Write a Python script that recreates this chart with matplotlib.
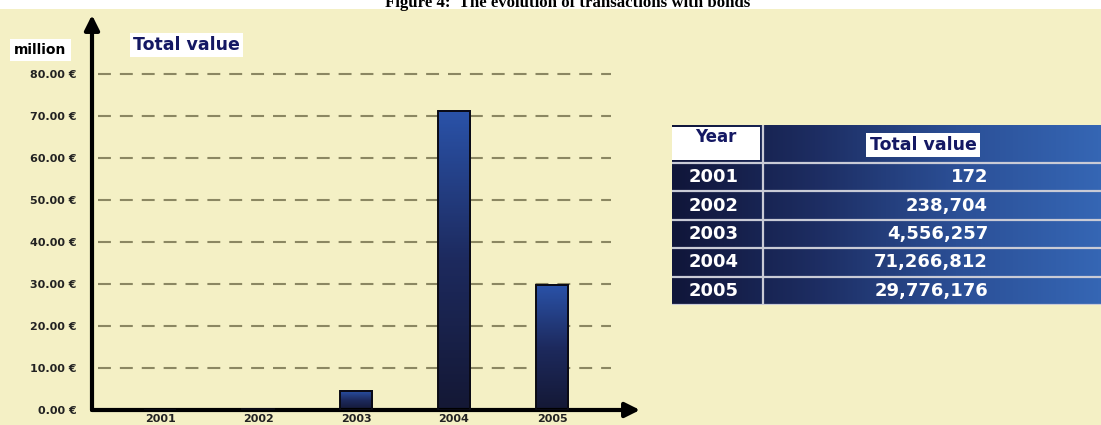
import numpy as np
import matplotlib.pyplot as plt
from matplotlib.colors import LinearSegmentedColormap
from matplotlib.patches import Rectangle

# bonds transactions, total value per year (euro)
years = ["2001", "2002", "2003", "2004", "2005"]
values = [172, 238704, 4556257, 71266812, 29776176]
value_labels = ["172", "238,704", "4,556,257", "71,266,812", "29,776,176"]
y_ticks = [0, 10, 20, 30, 40, 50, 60, 70, 80]

cream = "#f4f0c5"
navy_text = "#141863"
bar_cmap = LinearSegmentedColormap.from_list("bar", ["#141835", "#1d2a5e", "#2a52a8"])
tab_cmap = LinearSegmentedColormap.from_list("tab", ["#10163a", "#1d2d62", "#2b4f96", "#3566b4"])

W, H = 1101, 425
fig = plt.figure(figsize=(W / 100, H / 100), dpi=100, facecolor="white")

# cream panel under the white title strip
bg = fig.add_axes([0, 0, 1, 1 - 9 / H], zorder=-5)
bg.set_facecolor(cream)
bg.set_xticks([])
bg.set_yticks([])
for s in bg.spines.values():
    s.set_visible(False)

fig.text(568 / W, 1 - 7 / H, "Figure 4:  The evolution of transactions with bonds",
         ha="center", va="baseline", fontsize=12.1, fontweight="bold",
         family="Liberation Serif", color="black", zorder=10)

# ---- bar chart ----
ax = fig.add_axes([92 / W, 15 / H, (640 - 92) / W, (410 - 15) / H])
ax.patch.set_alpha(0)
for s in ax.spines.values():
    s.set_visible(False)
ax.set_xlim(-0.694, 4.898)
ax.set_ylim(0, 94)
ax.set_autoscale_on(False)

millions = [v / 1e6 for v in values]
xs = np.arange(len(years))
bw = 0.33
# dark at the base, blue at the top
grad = np.linspace(1, 0, 64).reshape(-1, 1)
for x, h in zip(xs, millions):
    ax.imshow(grad, extent=(x - bw / 2, x + bw / 2, 0, h), aspect="auto",
              cmap=bar_cmap, zorder=3, interpolation="bilinear")
    ax.add_patch(Rectangle((x - bw / 2, 0), bw, h, facecolor="none",
                           edgecolor="#0a0a14", lw=1.4, zorder=4))

for t in y_ticks[1:]:
    ax.hlines(t, -0.63, 4.6, colors="#8b8762", linestyles=(0, (6.2, 4.3)), lw=1.5, zorder=1)

ax.set_yticks(y_ticks)
ax.set_yticklabels([f"{t:.2f} €" for t in y_ticks], fontsize=8, fontweight="bold", color="#222222")
ax.set_xticks(xs)
ax.set_xticklabels(years, fontsize=8, fontweight="bold", color="#222222")
ax.tick_params(axis="y", length=0, pad=11)
ax.tick_params(axis="x", length=0, pad=3)

# axis arrows
ax.annotate("", xy=(1, 0), xytext=(0, 0), xycoords="axes fraction",
            arrowprops=dict(arrowstyle="-|>", lw=3, color="black", mutation_scale=22,
                            shrinkA=0, shrinkB=0), annotation_clip=False)
ax.annotate("", xy=(0, 1), xytext=(0, 0), xycoords="axes fraction",
            arrowprops=dict(arrowstyle="-|>", lw=3, color="black", mutation_scale=22,
                            shrinkA=0, shrinkB=0), annotation_clip=False)

fig.text(14 / W, 1 - 50 / H, "million", fontsize=10, fontweight="bold", color="black",
         va="center", ha="left",
         bbox=dict(facecolor="white", edgecolor="none", pad=3))
fig.text(133 / W, 1 - 45 / H, "Total value", fontsize=12.5, fontweight="bold", color=navy_text,
         va="center", ha="left",
         bbox=dict(facecolor="white", edgecolor="none", pad=2))

# ---- table ----
tx0, ty0, ty1 = 672, 125, 305
tab = fig.add_axes([tx0 / W, (H - ty1) / H, (W - tx0) / W, (ty1 - ty0) / H])
tab.set_xlim(0, W - tx0)
tab.set_ylim(ty1 - ty0, 0)
tab.axis("off")
tab.imshow(np.linspace(0, 1, 128).reshape(1, -1), extent=(0, W - tx0, ty1 - ty0, 0),
           aspect="auto", cmap=tab_cmap, interpolation="bilinear", zorder=0)

head_h = 38
row_h = (ty1 - ty0 - head_h) / len(years)
col_x = 91
tab.add_patch(Rectangle((0, 2), 88, head_h - 5, facecolor="white", edgecolor="none", zorder=1))
tab.text(44, 12, "Year", ha="center", va="center", fontsize=12, fontweight="bold", color=navy_text)
tab.text(251, 20, "Total value", ha="center", va="center", fontsize=12.5, fontweight="bold",
         color=navy_text, bbox=dict(facecolor="white", edgecolor="none", pad=2.5))

tab.vlines(col_x, 0, ty1 - ty0, colors="#c9cbd6", lw=1.6, zorder=2)
for i in range(len(years) + 1):
    tab.hlines(head_h + i * row_h, 0, W - tx0, colors="#c9cbd6", lw=1.6, zorder=2)

for i, (yr, lab) in enumerate(zip(years, value_labels)):
    yc = head_h + (i + 0.5) * row_h
    tab.text(42, yc, yr, ha="center", va="center", fontsize=13, fontweight="bold", color="white")
    tab.text(316, yc, lab, ha="right", va="center", fontsize=13, fontweight="bold", color="white")

fig.savefig("out.png", dpi=100, facecolor=fig.get_facecolor())
